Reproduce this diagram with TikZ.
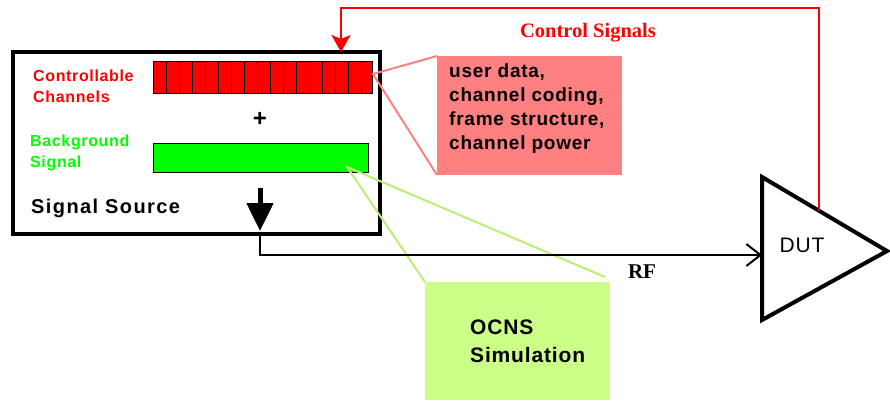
\documentclass[tikz,border=0pt]{standalone}
\usepackage{fontspec}
\setmainfont{Liberation Sans}[LetterSpace=4]
\newfontfamily\widesans{Liberation Sans}[LetterSpace=7]
\newfontfamily\serifbold{Liberation Serif}
\usetikzlibrary{arrows.meta,calc}
\definecolor{calloutpink}{HTML}{FF8080}
\definecolor{calloutgreen}{HTML}{CCFF88}
\definecolor{calloutline}{HTML}{BBEE77}
\begin{document}
\begin{tikzpicture}[x=1pt,y=-1pt,
  box/.style={draw=black,line width=#1,inner sep=0pt,outer sep=0pt},
  box/.default=1pt,
  lbl/.style={inner sep=0pt,font=\fontsize{16}{21}\selectfont\bfseries,align=left,anchor=west},
  callout/.style={inner sep=0pt,outer sep=0pt},
  rfline/.style={line width=2pt},
  ctlline/.style={draw=red,line width=2.5pt}
]
\useasboundingbox (0,0) rectangle (890,400);

% signal source frame
\node[box=3.5pt,minimum width=367pt,minimum height=182pt] (src) at (196.5,143) {};

% controllable channel bar, split into cells
\node[box,fill=red,minimum width=219pt,minimum height=32pt] (ctrl) at (262.5,77) {};
\foreach \i in {1,...,16}
  \draw[line width=1pt] ($(ctrl.north west)+(\i*13,0)$) -- ($(ctrl.south west)+(\i*13,0)$);

% background signal bar
\node[box,fill=green,minimum width=215pt,minimum height=29pt] (bg) at (260.5,157.5) {};

\node[inner sep=0pt,font=\fontsize{24}{24}\selectfont\bfseries] (plus) at (260,119) {+};

\node[lbl,text=red] (ctrllbl) at (33,86.5) {Controllable\\Channels};
\node[lbl,text=green] (bglbl) at (30,152.5) {Background\\Signal};
\node[lbl,font=\fontsize{20}{24}\selectfont\widesans\bfseries] (srclbl) at (31,208) {Signal Source};

% internal summing arrow
\coordinate (sumtop) at (260,188);
\coordinate (sumtip) at (260,231);
\draw[line width=5pt,-{Triangle[width=26pt,length=28pt]}] (sumtop) -- (sumtip);

% callout boxes
\node[callout,fill=calloutpink,minimum width=185pt,minimum height=119pt] (pink) at (529.5,115.5) {};
\node[inner sep=0pt,anchor=north west,align=left,
      font=\fontsize{19}{23.8}\selectfont\bfseries] (pinktxt) at (449,64)
  {user data,\\channel coding,\\frame structure,\\channel power};

\node[callout,fill=calloutgreen,minimum width=185pt,minimum height=118pt] (ocns) at (517.5,341) {};
\node[inner sep=0pt,anchor=west,align=left,
      font=\fontsize{21}{28}\selectfont\bfseries] (ocnstxt) at (470,341)
  {OCNS\\Simulation};

% callout leaders
\coordinate (ctrlpt) at (373,74);
\draw[calloutpink,line width=2pt] (pink.north west) -- (ctrlpt) -- (pink.south west);
\coordinate (bgpt) at (347,167);
\draw[calloutline,line width=2pt] (ocns.north west) -- (bgpt) -- ($(ocns.north east)+(-5,-5)$);

% device under test
\coordinate (dutA) at (762,177);
\coordinate (dutB) at (887,251);
\coordinate (dutC) at (762,320);
\draw[line width=4pt,line join=miter] (dutA) -- (dutB) -- (dutC) -- cycle;
\node[inner sep=0pt,font=\fontsize{21}{21}\selectfont] (dut) at (802,245) {DUT};
\coordinate (dutin) at (762,255);
\coordinate (dutout) at ($(dutA)!0.456!(dutB)$);

% RF path
\draw[rfline,-{Straight Barb[length=14pt,width=22pt]}] (src.south -| sumtip) |- (dutin);
\node[inner sep=0pt,font=\fontsize{21}{21}\selectfont\serifbold\bfseries] (rf) at (642,272) {RF};

% control feedback
\coordinate (ctlcorner1) at (dutout |- 0,8);
\coordinate (ctlcorner2) at (341,8);
\draw[ctlline,-{Stealth[width=19pt,length=17pt,inset=4pt]}]
  (dutout) -- (ctlcorner1) -- (ctlcorner2) -- (ctlcorner2 |- src.north);
\node[inner sep=0pt,text=red,font=\fontsize{20.5}{20.5}\selectfont\serifbold\bfseries] (ctllbl) at (588,33) {Control Signals};
\end{tikzpicture}
\end{document}
